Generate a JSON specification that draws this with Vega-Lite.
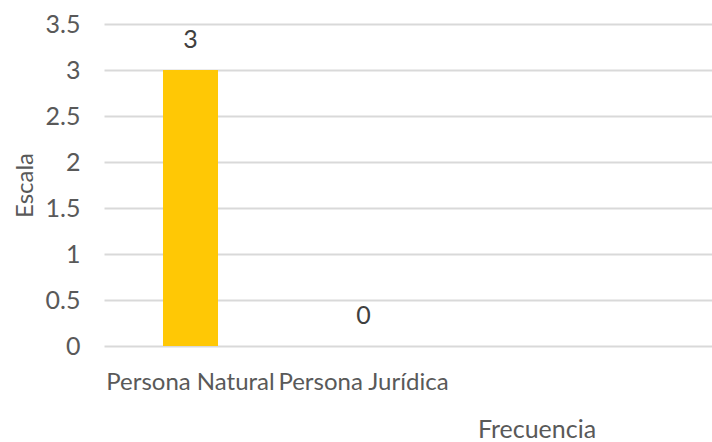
{
  "$schema": "https://vega.github.io/schema/vega-lite/v6.json",
  "width": 608,
  "height": 322,
  "autosize": "none",
  "padding": {"left": 104, "top": 24, "right": 0, "bottom": 96},
  "background": "white",
  "config": {
    "view": {"stroke": null},
    "font": "Lato"
  },
  "data": {
    "values": [
      {"tipo": "Persona Natural", "frecuencia": 3},
      {"tipo": "Persona Jurídica", "frecuencia": 0}
    ]
  },
  "encoding": {
    "x": {
      "field": "tipo",
      "type": "nominal",
      "sort": null,
      "scale": {
        "domain": ["Persona Natural", "Persona Jurídica", "c3", "c4", "c5"],
        "range": [0, 865],
        "paddingInner": 0.682,
        "paddingOuter": 0.341
      },
      "axis": {
        "title": "Frecuencia",
        "labelExpr": "indexof(datum.value, 'Persona') == 0 ? datum.value : ''",
        "labelAngle": 0,
        "labelOverlap": false,
        "labelBound": false,
        "ticks": false,
        "tickSize": 0,
        "domain": false,
        "grid": false,
        "labelBaseline": "alphabetic",
        "labelPadding": 43,
        "labelFontSize": 24,
        "labelColor": "#595959",
        "labelFont": "Lato",
        "titleFontSize": 25,
        "titleFontWeight": "normal",
        "titleColor": "#595959",
        "titleFont": "Lato",
        "titleBaseline": "alphabetic",
        "titleY": 91
      }
    },
    "y": {
      "field": "frecuencia",
      "type": "quantitative",
      "scale": {"domain": [0, 3.5], "nice": false, "zero": true},
      "axis": {
        "title": "Escala",
        "values": [0, 0.5, 1, 1.5, 2, 2.5, 3, 3.5],
        "format": "~g",
        "ticks": false,
        "tickSize": 0,
        "domain": false,
        "grid": true,
        "gridColor": "#d9d9d9",
        "gridWidth": 2,
        "labelPadding": 24,
        "labelFontSize": 25,
        "labelColor": "#595959",
        "labelFont": "Lato",
        "titleFontSize": 24,
        "titleFontWeight": "normal",
        "titleColor": "#595959",
        "titleFont": "Lato",
        "titleBaseline": "alphabetic",
        "titleX": -72
      }
    }
  },
  "layer": [
    {
      "mark": {"type": "bar", "color": "#FFC805", "clip": true}
    },
    {
      "mark": {
        "type": "text",
        "baseline": "alphabetic",
        "dy": -22,
        "fontSize": 25,
        "color": "#404040",
        "font": "Lato"
      },
      "encoding": {
        "text": {"field": "frecuencia", "type": "quantitative"}
      }
    }
  ]
}
